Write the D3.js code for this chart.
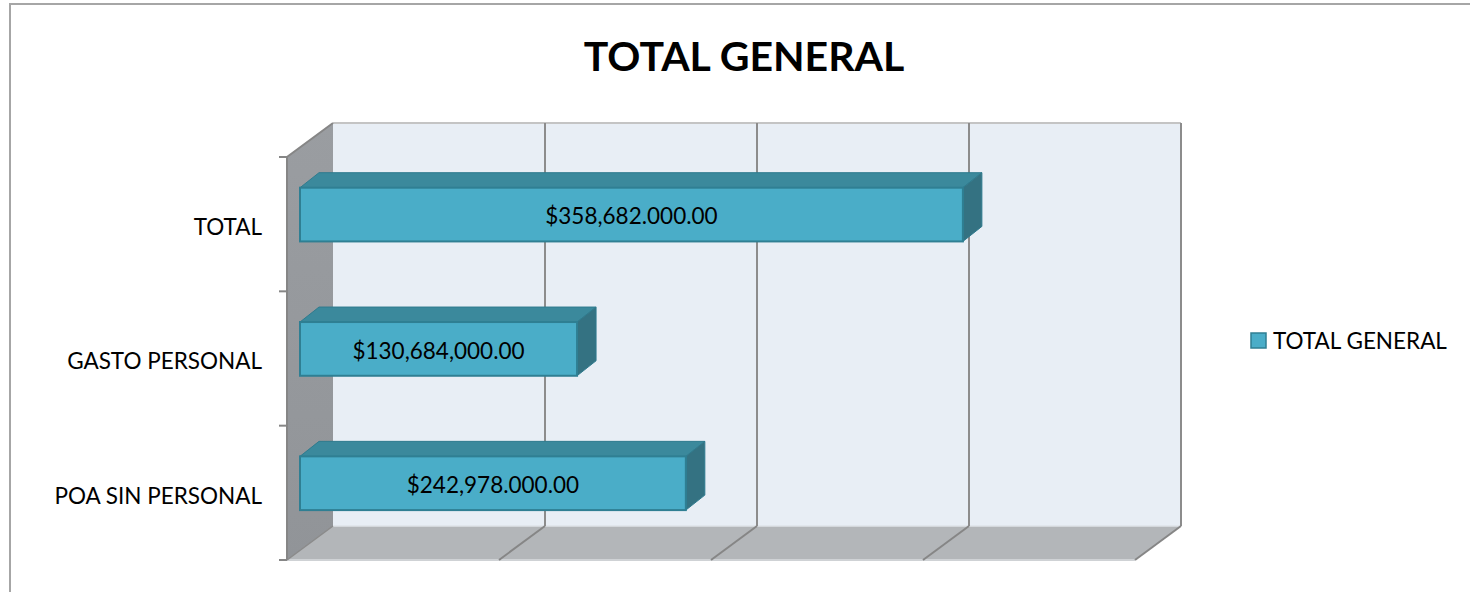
<!DOCTYPE html>
<html>
<head>
<meta charset="utf-8">
<script src="https://cdn.jsdelivr.net/npm/d3@7"></script>
<style>
  body { margin: 0; background: #fff; }
  text { font-family: Lato, "Open Sans", sans-serif; fill: #000; }
</style>
</head>
<body>
<div id="chart"></div>
<script>
// data
var categories = ["TOTAL", "GASTO PERSONAL", "POA SIN PERSONAL"];
// NOTE: bar lengths measured against the 0-400M axis; in the source chart the
// TOTAL and POA bars do not match their printed labels (labels kept as shown)
var values = [312684000, 130684000, 182000000];
var valueLabels = ["$358,682.000.00", "$130,684,000.00", "$242,978.000.00"];
var axisTicks = [0, 100000000, 200000000, 300000000, 400000000];
var seriesName = "TOTAL GENERAL";
var chartTitle = "TOTAL GENERAL";

function drawChart() {

    var w = 1470, h = 592;

    // 3d box: front plane and depth offset to the back wall
    var pLeft = 287, pRight = 1135, pTop = 157, pBottom = 560;
    var depthX = 46, depthY = 34;
    // bar sits inside the depth
    var barZx = 13, barZy = 9.6, barDx = 19, barDy = 15;

    var svg = d3.select("#chart")
        .append("svg")
        .attr("width", w)
        .attr("height", h);

    // outer chart border
    svg.append("rect")
        .attr("x", 10).attr("y", 4)
        .attr("width", 1600).attr("height", 800)
        .style("fill", "none")
        .style("stroke", "#a6a6a6")
        .style("stroke-width", 2);

    var xScale = d3.scaleLinear()
        .domain([0, 400000000])
        .range([pLeft, pRight]);

    var yScale = d3.scaleBand()
        .domain(categories)
        .range([pTop, pBottom])
        .paddingInner(0.6)
        .paddingOuter(0.3);

    function pts(arr) {
        return arr.map(function(p){ return p[0] + "," + p[1]; }).join(" ");
    }

    // back wall
    svg.append("rect")
        .attr("x", pLeft + depthX)
        .attr("y", pTop - depthY)
        .attr("width", pRight - pLeft)
        .attr("height", pBottom - pTop)
        .style("fill", "#e8eef5");

    svg.append("line")
        .attr("x1", pLeft + depthX).attr("y1", pTop - depthY)
        .attr("x2", pRight + depthX).attr("y2", pTop - depthY)
        .style("stroke", "#c4c4c4").style("stroke-width", 2);

    // side wall
    var defs = svg.append("defs");
    var g1 = defs.append("linearGradient").attr("id", "sideGrad")
        .attr("x1", 0).attr("y1", 0).attr("x2", 0).attr("y2", 1);
    g1.append("stop").attr("offset", "0%").attr("stop-color", "#9a9da1");
    g1.append("stop").attr("offset", "100%").attr("stop-color", "#919498");

    svg.append("polygon")
        .attr("points", pts([[pLeft, pTop], [pLeft + depthX, pTop - depthY],
            [pLeft + depthX, pBottom - depthY], [pLeft, pBottom]]))
        .style("fill", "url(#sideGrad)");

    // floor
    svg.append("polygon")
        .attr("points", pts([[pLeft, pBottom], [pLeft + depthX, pBottom - depthY],
            [pRight + depthX, pBottom - depthY], [pRight, pBottom]]))
        .style("fill", "#b3b6b9");

    svg.append("line")
        .attr("x1", pLeft + depthX).attr("y1", pBottom - depthY)
        .attr("x2", pRight + depthX).attr("y2", pBottom - depthY)
        .style("stroke", "#dfe3e8").style("stroke-width", 1.5);

    svg.append("line")
        .attr("x1", pLeft).attr("y1", pBottom)
        .attr("x2", pRight).attr("y2", pBottom)
        .style("stroke", "#cfd2d5").style("stroke-width", 2);

    // gridlines on wall and floor
    var grid = svg.append("g");
    grid.selectAll(".wallgrid")
        .data(axisTicks.slice(1))
        .enter().append("line")
        .attr("x1", function(d){ return xScale(d) + depthX; })
        .attr("x2", function(d){ return xScale(d) + depthX; })
        .attr("y1", pTop - depthY)
        .attr("y2", pBottom - depthY)
        .style("stroke", "#8c8c8c").style("stroke-width", 2);

    grid.selectAll(".floorgrid")
        .data(axisTicks.slice(1))
        .enter().append("line")
        .attr("x1", function(d){ return xScale(d) + depthX; })
        .attr("y1", pBottom - depthY)
        .attr("x2", function(d){ return xScale(d); })
        .attr("y2", pBottom)
        .style("stroke", "#868686").style("stroke-width", 2);

    // side wall edges
    svg.append("polyline")
        .attr("points", pts([[pLeft, pBottom], [pLeft, pTop], [pLeft + depthX, pTop - depthY]]))
        .style("fill", "none")
        .style("stroke", "#868686").style("stroke-width", 2);

    svg.append("line")
        .attr("x1", pLeft).attr("y1", pBottom)
        .attr("x2", pLeft + depthX).attr("y2", pBottom - depthY)
        .style("stroke", "#8a8a8a").style("stroke-width", 1.5);

    // category ticks
    var step = yScale.step();
    var tickYs = d3.range(categories.length + 1).map(function(i){ return pTop + i * step; });
    svg.selectAll(".ytick")
        .data(tickYs)
        .enter().append("line")
        .attr("x1", pLeft - 8).attr("x2", pLeft)
        .attr("y1", function(d){ return d; })
        .attr("y2", function(d){ return d; })
        .style("stroke", "#868686").style("stroke-width", 2);

    // bars
    var data = categories.map(function(c, i){
        return {cat: c, value: values[i], label: valueLabels[i]};
    });

    var bars = svg.selectAll(".bar")
        .data(data)
        .enter().append("g")
        .attr("class", "bar");

    function fx0(){ return xScale(0) + barZx; }
    function fx1(d){ return xScale(d.value) + barZx; }
    function fy0(d){ return yScale(d.cat) - barZy; }
    function fy1(d){ return yScale(d.cat) - barZy + yScale.bandwidth(); }

    // top face
    bars.append("polygon")
        .attr("points", function(d){
            return pts([[fx0(), fy0(d)], [fx0() + barDx, fy0(d) - barDy],
                [fx1(d) + barDx, fy0(d) - barDy], [fx1(d), fy0(d)]]);
        })
        .style("fill", "#3b899c")
        .style("stroke", "#2f7b8e").style("stroke-width", 1);

    // side face
    bars.append("polygon")
        .attr("points", function(d){
            return pts([[fx1(d), fy0(d)], [fx1(d) + barDx, fy0(d) - barDy],
                [fx1(d) + barDx, fy1(d) - barDy], [fx1(d), fy1(d)]]);
        })
        .style("fill", "#347282")
        .style("stroke", "#2f7b8e").style("stroke-width", 1);

    // front face
    bars.append("rect")
        .attr("x", fx0)
        .attr("y", fy0)
        .attr("width", function(d){ return fx1(d) - fx0(); })
        .attr("height", yScale.bandwidth())
        .style("fill", "#4aadc8")
        .style("stroke", "#2f7f93").style("stroke-width", 2);

    // data labels
    bars.append("text")
        .attr("x", function(d){ return (fx0() + fx1(d)) / 2; })
        .attr("y", function(d){ return (fy0(d) + fy1(d)) / 2 + 2; })
        .attr("dy", "0.35em")
        .attr("text-anchor", "middle")
        .style("font-size", "22.5px")
        .text(function(d){ return d.label; });

    // category labels
    svg.selectAll(".catlabel")
        .data(categories)
        .enter().append("text")
        .attr("x", 262)
        .attr("y", function(d){ return yScale(d) + yScale.bandwidth() / 2 + 3; })
        .attr("dy", "0.35em")
        .attr("text-anchor", "end")
        .style("font-size", "22.5px")
        .text(function(d){ return d; });

    // title
    svg.append("text")
        .attr("x", 744)
        .attr("y", 71)
        .attr("text-anchor", "middle")
        .style("font-size", "41px")
        .style("font-weight", "bold")
        .text(chartTitle);

    // legend
    var legend = svg.append("g").attr("transform", "translate(1251,333)");
    legend.append("rect")
        .attr("width", 15).attr("height", 15)
        .style("fill", "#4aadc8")
        .style("stroke", "#2f7f93").style("stroke-width", 1.5);
    legend.append("text")
        .attr("x", 22).attr("y", 8)
        .attr("dy", "0.35em")
        .style("font-size", "22.5px")
        .text(seriesName);
}

drawChart();
</script>
</body>
</html>
